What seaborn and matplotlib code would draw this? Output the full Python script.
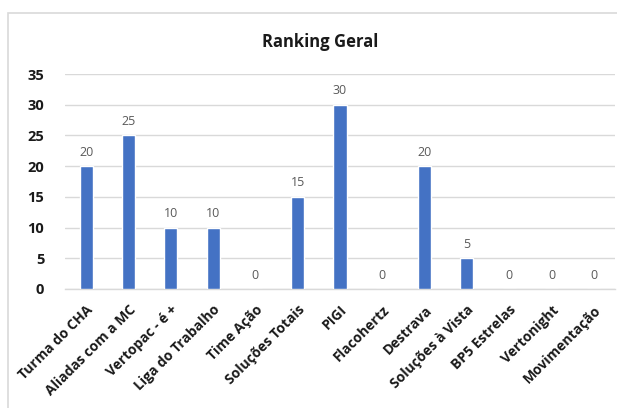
import matplotlib
matplotlib.use("Agg")
import matplotlib.pyplot as plt
import seaborn as sns
import pandas as pd
from matplotlib.patches import Rectangle

categories = ["Turma do CHA", "Aliadas com a MC", "Vertopac - é +", "Liga do Trabalho",
              "Time Ação", "Soluções Totais", "PIGI", "Flacohertz", "Destrava",
              "Soluções à Vista", "BP5 Estrelas", "Vertonight", "Movimentação"]
values = [20, 25, 10, 10, 0, 15, 30, 0, 20, 5, 0, 0, 0]
yticks = [0, 5, 10, 15, 20, 25, 30, 35]

sns.set_theme(style="white")
plt.rcParams['font.family'] = ['Open Sans', 'DejaVu Sans']

df = pd.DataFrame({"cat": categories, "val": values})

fig = plt.figure(figsize=(6.17, 4.08), dpi=100)
fig.patches.append(Rectangle((8/617, -0.1), 1.2, 1 - 13/408 + 0.1, transform=fig.transFigure,
                             fill=False, edgecolor="#d9d9d9", linewidth=1.2, zorder=0))
ax = fig.add_axes([65/617, 1 - 289/408, 550/617, 215/408])
sns.barplot(data=df, x="cat", y="val", color="#4472C4", width=0.31, ax=ax,
            saturation=1, zorder=3)
ax.set_ylim(0, 35)
ax.set_xlim(-0.5, len(categories) - 0.5)
ax.set_yticks(yticks)
ax.yaxis.grid(True, color="#d9d9d9", linewidth=1.0, zorder=0)
ax.set_axisbelow(True)
for s in ["top", "right", "left"]:
    ax.spines[s].set_visible(False)
ax.spines["bottom"].set_color("#d9d9d9")
ax.spines["bottom"].set_linewidth(1.0)
ax.set_xlabel("")
ax.set_ylabel("")
ax.tick_params(axis="y", length=0, pad=15, labelsize=10.5, labelcolor="#1a1a1a")
ax.tick_params(axis="x", length=0, pad=10, labelsize=10, labelcolor="#1a1a1a")
for lab in ax.get_yticklabels():
    lab.set_fontweight("bold")
ax.set_xticks(range(len(categories)))
ax.set_xticklabels(categories, rotation=45, ha="right", rotation_mode="anchor",
                   fontweight="bold")
for i, v in enumerate(values):
    ax.text(i, v + 1.2, str(v), ha="center", va="bottom", fontsize=9, color="#595959")
fig.text(320/617, 1 - 42/408, "Ranking Geral", ha="center", va="center",
         fontsize=12, fontweight="bold", color="#1a1a1a")
fig.savefig("out.png", dpi=100)
